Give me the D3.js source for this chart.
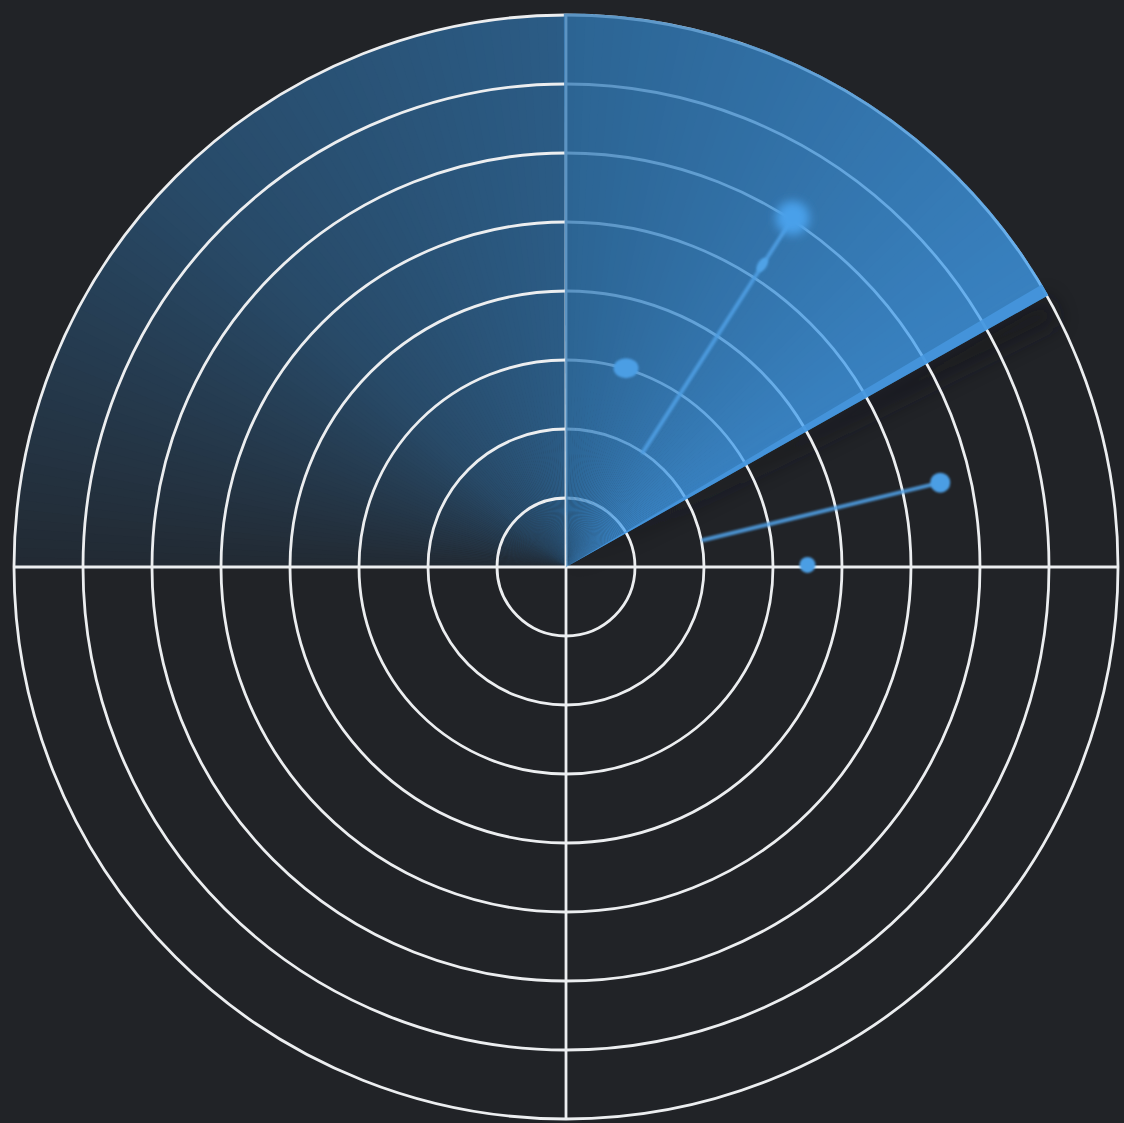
<!DOCTYPE html>
<html lang="en">
<head>
    <meta charset="UTF-8">
    <title>Radar Sweep</title>
    <script src="https://d3js.org/d3.v7.min.js"></script>
    <style>
        html, body {
            margin: 0;
            padding: 0;
            background-color: #212327;
        }
        svg {
            display: block;
        }
    </style>
</head>
<body>
    <svg id="radar" width="1124" height="1123"></svg>

    <script>
        // rings (range units) and spokes (degrees, counter-clockwise from east)
        const rings = [1, 2, 3, 4, 5, 6, 7, 8];
        const spokes = [0, 90, 180, 270];

        // sweep: leading edge, end of bright part, end of fading tail
        const sweepEdge = 29.4;
        const sweepBright = 90;
        const sweepTail = 180;

        // echoes
        const blipAngles = [57.0, 73.2, 12.7, 0.5];
        const blipRanges = [6.03, 3.01, 5.56, 3.5];
        const blipGlow = [true, false, false, false];

        // tracks (start -> end, in degrees / range units)
        const trackFromAngles = [56.2, 11.1];
        const trackFromRanges = [2.0, 2.03];
        const trackToAngles = [57.0, 12.7];
        const trackToRanges = [6.03, 5.56];

        // heading marker on the first track
        const markerAngles = [57.0];
        const markerRanges = [5.22];

        const svg = d3.select("#radar");
        const cx = 566, cy = 567;

        const r = d3.scaleLinear().domain([0, 8]).range([0, 552]);
        const toRad = d => d * Math.PI / 180;
        // d3.arc angle (clockwise from north) from math angle
        const arcAngle = d => toRad(90 - d);
        const px = (a, v) => cx + r(v) * Math.cos(toRad(a));
        const py = (a, v) => cy - r(v) * Math.sin(toRad(a));

        const defs = svg.append("defs");

        const blur = defs.append("filter").attr("id", "glow")
            .attr("x", "-100%").attr("y", "-100%").attr("width", "300%").attr("height", "300%");
        blur.append("feGaussianBlur").attr("stdDeviation", 5);

        const soft = defs.append("filter").attr("id", "soft")
            .attr("x", "-50%").attr("y", "-50%").attr("width", "200%").attr("height", "200%");
        soft.append("feGaussianBlur").attr("stdDeviation", 0.9);

        const shade = defs.append("filter").attr("id", "shade")
            .attr("x", "-20%").attr("y", "-20%").attr("width", "140%").attr("height", "140%");
        shade.append("feGaussianBlur").attr("stdDeviation", 10);

        const centerFade = defs.append("radialGradient").attr("id", "centerFade")
            .attr("gradientUnits", "userSpaceOnUse")
            .attr("cx", cx).attr("cy", cy).attr("r", r(8));
        centerFade.append("stop").attr("offset", 0).attr("stop-color", "#212327").attr("stop-opacity", 0.85);
        centerFade.append("stop").attr("offset", 0.3).attr("stop-color", "#212327").attr("stop-opacity", 0.35);
        centerFade.append("stop").attr("offset", 0.6).attr("stop-color", "#212327").attr("stop-opacity", 0);

        const g = svg.append("g").attr("transform", `translate(${cx},${cy})`);

        // fading tail of the sweep (under the grid)
        const tailSteps = 90;
        const tailColor = d3.scaleLinear()
            .domain([sweepBright, 135, sweepTail])
            .range(["#2b5c86", "#284a68", "#222a33"]);
        const tailStep = (sweepTail - sweepBright) / tailSteps;
        g.append("g").selectAll("path")
            .data(d3.range(tailSteps))
            .join("path")
            .attr("d", i => d3.arc()
                .innerRadius(0).outerRadius(r(8))
                .startAngle(arcAngle(sweepBright + (i + 1) * tailStep) - 0.004)
                .endAngle(arcAngle(sweepBright + i * tailStep))())
            .attr("fill", i => tailColor(sweepBright + (i + 0.5) * tailStep));

        // darken tail towards the centre
        g.append("path")
            .attr("d", d3.arc().innerRadius(0).outerRadius(r(8))
                .startAngle(arcAngle(sweepTail)).endAngle(arcAngle(sweepBright))())
            .attr("fill", "url(#centerFade)")
            .attr("transform", `translate(${-cx},${-cy})`)
            .attr("transform", null);

        // soft shadow just behind the leading edge
        g.append("path")
            .attr("d", d3.arc().innerRadius(0).outerRadius(r(8))
                .startAngle(arcAngle(sweepEdge)).endAngle(arcAngle(sweepEdge - 3))())
            .attr("fill", "#16181b")
            .attr("opacity", 0.6)
            .attr("filter", "url(#shade)");

        // grid
        const grid = svg.append("g").attr("transform", `translate(${cx},${cy})`);
        grid.selectAll("circle")
            .data(rings)
            .join("circle")
            .attr("r", d => r(d))
            .attr("fill", "none")
            .attr("stroke", "#eceef0")
            .attr("stroke-width", 2.8);

        grid.selectAll("line")
            .data(spokes)
            .join("line")
            .attr("x1", 0).attr("y1", 0)
            .attr("x2", d => r(8) * Math.cos(toRad(d)))
            .attr("y2", d => -r(8) * Math.sin(toRad(d)))
            .attr("stroke", "#eceef0")
            .attr("stroke-width", 2.8);

        // bright part of the sweep, over the grid
        const brightSteps = 60;
        const brightColor = d3.scaleLinear()
            .domain([sweepEdge, sweepBright])
            .range(["#41a0f2", "#3079b5"]);
        const brightStep = (sweepBright - sweepEdge) / brightSteps;
        svg.append("g")
            .attr("transform", `translate(${cx},${cy})`)
            .attr("opacity", 0.76)
            .selectAll("path")
            .data(d3.range(brightSteps))
            .join("path")
            .attr("d", i => d3.arc()
                .innerRadius(0).outerRadius(r(8) + 1.5)
                .startAngle(arcAngle(sweepEdge + (i + 1) * brightStep) - 0.004)
                .endAngle(arcAngle(sweepEdge + i * brightStep))())
            .attr("fill", i => brightColor(sweepEdge + (i + 0.5) * brightStep));

        // leading edge band
        svg.append("path")
            .attr("transform", `translate(${cx},${cy})`)
            .attr("d", d3.arc().innerRadius(0).outerRadius(r(8) + 1.5)
                .startAngle(arcAngle(sweepEdge + 1.3)).endAngle(arcAngle(sweepEdge))())
            .attr("fill", "#4696de")
            .attr("opacity", 0.85);

        // tracks
        const blips = svg.append("g");
        blips.selectAll("line.track")
            .data(d3.range(trackFromAngles.length))
            .join("line")
            .attr("class", "track")
            .attr("x1", i => px(trackFromAngles[i], trackFromRanges[i]))
            .attr("y1", i => py(trackFromAngles[i], trackFromRanges[i]))
            .attr("x2", i => px(trackToAngles[i], trackToRanges[i]))
            .attr("y2", i => py(trackToAngles[i], trackToRanges[i]))
            .attr("stroke", "#4f9ee2")
            .attr("stroke-width", 4)
            .attr("stroke-linecap", "round")
            .attr("opacity", 0.9)
            .attr("filter", "url(#soft)");

        // heading markers
        blips.selectAll("ellipse.marker")
            .data(d3.range(markerAngles.length))
            .join("ellipse")
            .attr("class", "marker")
            .attr("rx", 4.5).attr("ry", 8)
            .attr("transform", i => `translate(${px(markerAngles[i], markerRanges[i])},${py(markerAngles[i], markerRanges[i])}) rotate(${90 - markerAngles[i]})`)
            .attr("fill", "#50a2e6")
            .attr("filter", "url(#soft)");

        // echoes
        blips.selectAll("circle.halo")
            .data(d3.range(blipAngles.length).filter(i => blipGlow[i]))
            .join("circle")
            .attr("class", "halo")
            .attr("cx", i => px(blipAngles[i], blipRanges[i]))
            .attr("cy", i => py(blipAngles[i], blipRanges[i]))
            .attr("r", 17)
            .attr("fill", "#4aa0ea")
            .attr("filter", "url(#glow)");

        blips.selectAll("ellipse.blip")
            .data(d3.range(blipAngles.length).filter(i => !blipGlow[i]))
            .join("ellipse")
            .attr("class", "blip")
            .attr("cx", i => px(blipAngles[i], blipRanges[i]))
            .attr("cy", i => py(blipAngles[i], blipRanges[i]))
            .attr("rx", i => i === 1 ? 12.5 : (i === 2 ? 10 : 8))
            .attr("ry", i => i === 1 ? 10 : (i === 2 ? 10 : 8))
            .attr("fill", "#4c9ee4")
            .attr("filter", "url(#soft)");
    </script>
</body>
</html>
